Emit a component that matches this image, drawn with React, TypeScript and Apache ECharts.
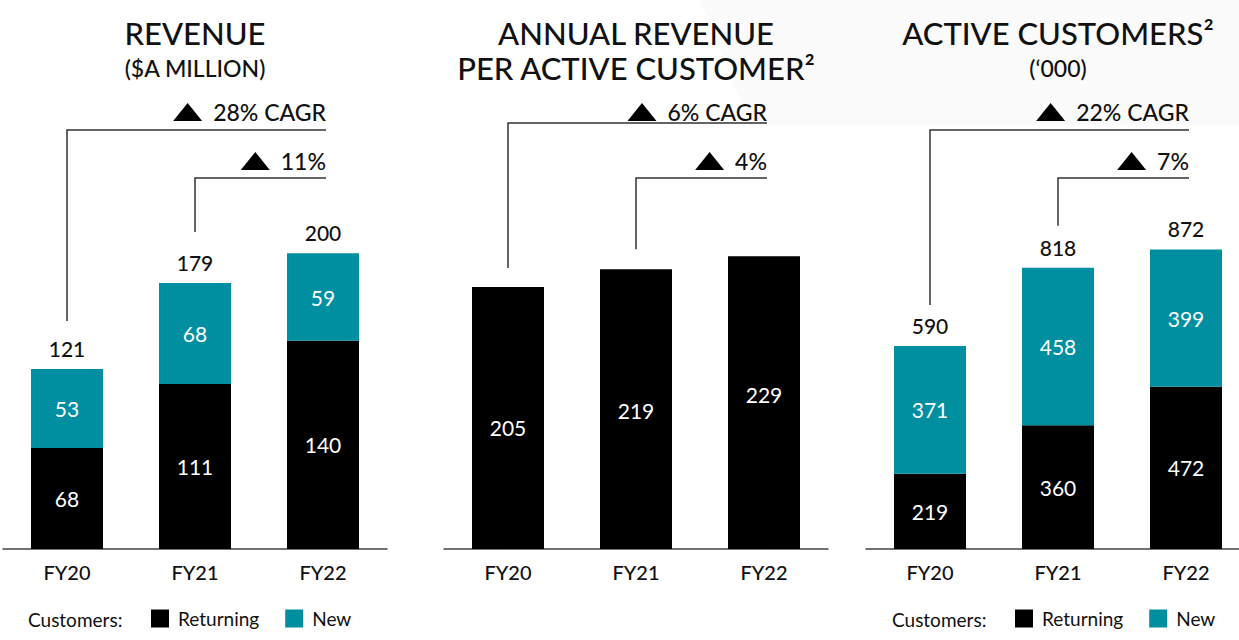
import React, { useEffect, useRef } from 'react';
import * as echarts from 'echarts';

const categories = ['FY20', 'FY21', 'FY22'];
const revenueReturning = [68, 111, 140];
const revenueNew = [53, 68, 59];
const revenueTotal = [121, 179, 200];
const revPerCustomer = [205, 219, 229];
const customersReturning = [219, 360, 472];
const customersNew = [371, 458, 399];
const customersTotal = [590, 818, 872];
const titlesLine1 = ['REVENUE', 'ANNUAL REVENUE', 'ACTIVE CUSTOMERS²'];
const titlesLine2 = ['($A MILLION)', 'PER ACTIVE CUSTOMER²', '(‘000)'];
const outerGrowth = ['28% CAGR', '6% CAGR', '22% CAGR'];
const innerGrowth = ['11%', '4%', '7%'];
const legendLabel = 'Customers:';

const FONT = 'Lato, "Noto Sans", sans-serif';
const TEAL = '#008fa1';
const W = 1239;
const CW = 1262;
const H = 640;

const gridLefts = [3, 444, 866];
const yMax = [300, 349, 1297];
const outerLineY = [130, 123, 130];
const outerGap = [48, 19, 41];
const innerGap = [51, 20, 42];
const panel2LabelShift = [9, 1, -8];

function measure(text: string, font: string) {
  const c = document.createElement('canvas').getContext('2d')!;
  c.font = font;
  return c.measureText(text).width;
}

export default function App() {
  const ref = useRef<HTMLDivElement>(null);
  useEffect(() => {
    document.body.style.margin = '0';
    const chart = echarts.init(ref.current!, undefined, { renderer: 'svg', width: CW, height: H });
    const grids = gridLefts.map((l) => ({ left: l, width: 384, top: 103, height: 446 }));
    const xAxes = grids.map((_, i) => ({
      type: 'category',
      gridIndex: i,
      data: categories,
      axisLine: { lineStyle: { color: '#444', width: 1.5 } },
      axisTick: { show: false },
      axisLabel: { fontSize: 20, color: '#111', fontFamily: FONT, fontWeight: 500, margin: 13 },
    }));
    const yAxes = grids.map((_, i) => ({
      type: 'value', gridIndex: i, min: 0, max: yMax[i], show: false, splitLine: { show: false },
    }));
    const inside = { show: true, position: 'inside', color: '#fff', fontSize: 21, fontFamily: FONT };
    const totalLabel = (totals: number[]) => ({
      show: true, position: 'top', distance: 10, color: '#111', fontSize: 21, fontFamily: FONT, fontWeight: 500,
      formatter: (p: any) => String(totals[p.dataIndex]),
    });
    const series: any[] = [
      { name: 'Returning', type: 'bar', xAxisIndex: 0, yAxisIndex: 0, stack: 'a', barWidth: 72, data: revenueReturning, itemStyle: { color: '#000' }, label: inside },
      { name: 'New', type: 'bar', xAxisIndex: 0, yAxisIndex: 0, stack: 'a', barWidth: 72, data: revenueNew, itemStyle: { color: TEAL }, label: inside },
      { name: 'Total', type: 'bar', xAxisIndex: 0, yAxisIndex: 0, stack: 'a', barWidth: 72, data: revenueTotal.map(() => 0), itemStyle: { color: 'transparent' }, label: totalLabel(revenueTotal) },
      {
        name: 'Revenue per customer', type: 'bar', xAxisIndex: 1, yAxisIndex: 1, barWidth: 72,
        data: revPerCustomer.map((v, k) => ({ value: v, label: { offset: [0, panel2LabelShift[k]] } })),
        itemStyle: { color: '#000' }, label: inside,
      },
      { name: 'Returning', type: 'bar', xAxisIndex: 2, yAxisIndex: 2, stack: 'c', barWidth: 72, data: customersReturning, itemStyle: { color: '#000' }, label: inside },
      { name: 'New', type: 'bar', xAxisIndex: 2, yAxisIndex: 2, stack: 'c', barWidth: 72, data: customersNew, itemStyle: { color: TEAL }, label: inside },
      { name: 'Total', type: 'bar', xAxisIndex: 2, yAxisIndex: 2, stack: 'c', barWidth: 72, data: customersTotal.map(() => 0), itemStyle: { color: 'transparent' }, label: totalLabel(customersTotal) },
    ];
    const legendCommon = {
      data: ['Returning', 'New'],
      top: 609,
      padding: 0,
      itemWidth: 18,
      itemHeight: 18,
      itemGap: 26,
      icon: 'rect',
      selectedMode: false,
      textStyle: { fontSize: 19, color: '#111', fontFamily: FONT, padding: [0, 0, 0, 4] },
    };
    chart.setOption({
      animation: false,
      backgroundColor: '#fff',
      grid: grids,
      xAxis: xAxes,
      yAxis: yAxes,
      series,
      legend: [
        { ...legendCommon, left: 151 },
        { ...legendCommon, left: 1015 },
      ],
    });

    const totalsPerPanel = [revenueTotal, revPerCustomer, customersTotal];
    const graphics: any[] = [
      { type: 'polygon', z: -10, silent: true, shape: { points: [[700, 0], [CW, 0], [CW, 125], [750, 125]] }, style: { fill: '#fbfbfb' } },
    ];
    const growthFont = `500 23px ${FONT}`;
    for (let i = 0; i < 3; i++) {
      const pt = (idx: number) => chart.convertToPixel({ xAxisIndex: i, yAxisIndex: i } as any, [categories[idx], totalsPerPanel[i][idx]]) as number[];
      const mid = pt(1)[0];
      graphics.push({ type: 'text', x: mid, y: 33, style: { text: titlesLine1[i], fontSize: 31, fontWeight: 500, fontFamily: FONT, fill: '#111', align: 'center', verticalAlign: 'middle' } });
      const sub = i === 1;
      graphics.push({ type: 'text', x: mid, y: 68, style: { text: titlesLine2[i], fontSize: sub ? 31 : 23, fontWeight: 500, fontFamily: FONT, fill: '#111', align: 'center', verticalAlign: 'middle' } });
      const endX = pt(2)[0] + 3;
      const brackets = [
        { idx: 0, lineY: outerLineY[i], textY: 112, gap: outerGap[i], label: outerGrowth[i] },
        { idx: 1, lineY: 178, textY: 161, gap: innerGap[i], label: innerGrowth[i] },
      ];
      for (const b of brackets) {
        const [x, yTop] = pt(b.idx);
        graphics.push({ type: 'polyline', shape: { points: [[x, yTop - b.gap], [x, b.lineY], [endX, b.lineY]] }, style: { stroke: '#333', lineWidth: 1.5, fill: 'none' } });
        graphics.push({ type: 'text', x: endX, y: b.textY, style: { text: b.label, font: growthFont, fill: '#111', align: 'right', verticalAlign: 'middle' } });
        const tw = measure(b.label, growthFont);
        const r = endX - tw - 11;
        graphics.push({ type: 'polygon', shape: { points: [[r - 29, b.textY + 9], [r, b.textY + 9], [r - 14.5, b.textY - 9]] }, style: { fill: '#000' } });
      }
    }
    graphics.push({ type: 'text', x: 28, y: 619, style: { text: legendLabel, fontSize: 19, fontFamily: FONT, fill: '#111', verticalAlign: 'middle' } });
    graphics.push({ type: 'text', x: 892, y: 619, style: { text: legendLabel, fontSize: 19, fontFamily: FONT, fill: '#111', verticalAlign: 'middle' } });
    chart.setOption({ graphic: graphics });
    return () => chart.dispose();
  }, []);
  return (
    <div style={{ width: W, height: H, overflow: 'hidden', position: 'relative' }}>
      <div ref={ref} style={{ width: CW, height: H }} />
    </div>
  );
}
